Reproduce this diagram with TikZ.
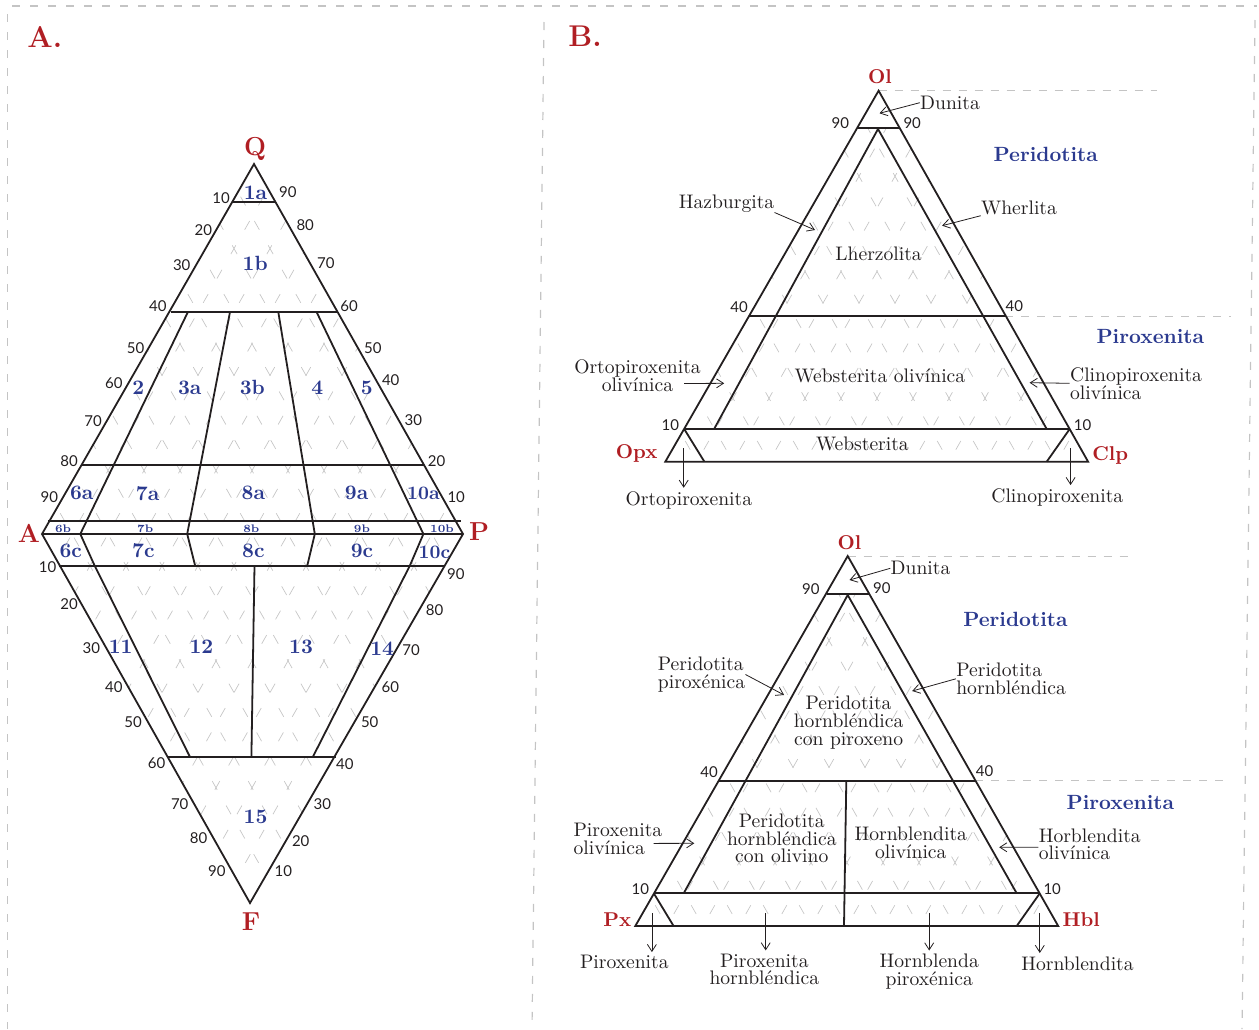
\documentclass[tikz,border=0pt]{standalone}
\usepackage{fontspec}
\newfontfamily\ticksf{Lato}
\usepackage{tikz}
\usetikzlibrary{arrows.meta,calc}

\definecolor{vtxred}{HTML}{B01E23}
\definecolor{fieldblue}{HTML}{2B3A8F}
\definecolor{ink}{HTML}{231F20}
\definecolor{framegray}{HTML}{C4C4C4}
\definecolor{hatchgray}{HTML}{C6C6C6}

\tikzset{
  rim/.style={line width=0.9pt, draw=ink, line join=miter},
  hatchln/.style={draw=hatchgray, line width=0.35pt, dash pattern=on 5pt off 9pt},
  framedash/.style={draw=framegray, line width=0.6pt, dash pattern=on 4pt off 5pt},
  guide/.style={draw=framegray, line width=0.5pt, dash pattern=on 4pt off 4pt},
  panel/.style={text=vtxred, font=\fontsize{15}{15}\selectfont\bfseries, inner sep=0pt},
  vtx/.style={text=vtxred, font=\fontsize{13}{13}\selectfont\bfseries, inner sep=0pt},
  vtxb/.style={text=vtxred, font=\fontsize{10}{10}\selectfont\bfseries, inner sep=0pt},
  fld/.style={text=fieldblue, font=\fontsize{10.3}{10.3}\selectfont\bfseries, inner sep=0pt},
  fldnar/.style={text=fieldblue, font=\fontsize{9.5}{9.5}\selectfont\bfseries, inner sep=0pt},
  fldsm/.style={text=fieldblue, font=\fontsize{5.5}{5.5}\selectfont\bfseries, inner sep=0pt},
  tick/.style={text=ink, font=\ticksf\fontsize{7.5}{7.5}\selectfont, inner sep=0pt},
  clan/.style={text=fieldblue, font=\fontsize{10.3}{10.3}\selectfont\bfseries, inner sep=0pt},
  rock/.style={text=ink, font=\fontsize{9.8}{8.9}\selectfont, inner sep=0pt, align=center},
  lead/.style={-{Straight Barb[length=3.5pt,width=4.5pt]}, line width=0.4pt, draw=ink}
}

\begin{document}
\begin{tikzpicture}[x=0.5pt,y=-0.5pt]
\useasboundingbox (0,0) rectangle (1259,1029);

\draw[framedash] (12,6) -- (1257,6);
\draw[framedash] (7.5,14) -- (7.5,1029);
\draw[framedash] (544,22) -- (532,1029);
\draw[framedash] (1255,20) -- (1242,1029);

\node[panel] (pA) at (44.8,36.7) {A.};
\node[panel] (pB) at (585,36.7) {B.};

\coordinate (Q) at (254,164);
\coordinate (A) at (42,534);
\coordinate (P) at (463,534);
\coordinate (F) at (250,903);

\begin{scope}
\clip (Q) -- (A) -- (F) -- (P) -- cycle;
\foreach \k in {-12,...,12}{
  \draw[hatchln] ({252+\k*36-454},-266) -- ++(908,1600);
  \draw[hatchln] ({252+\k*36+454},-266) -- ++(-908,1600);
}
\end{scope}

\draw[rim] (Q) -- (A) -- (F) -- (P) -- cycle;
\draw[rim] (A) -- (P);
\draw[rim] (232.8,202) -- (274.8,202);
\draw[rim] (170.7,312) -- (336.9,312);
\draw[rim] (81.7,465) -- (423.8,465);
\draw[rim] (48.3,521) -- (460.7,521);
\draw[rim] (58.6,566) -- (444.8,566);
\draw[rim] (166.6,757) -- (335.5,757);
\draw[rim] (187.9,312) -- (80.3,534) -- (94.8,566) -- (190,757);
\draw[rim] (230,312) -- (187.2,534) -- (195.2,566);
\draw[rim] (278.3,312) -- (314.8,534) -- (307.2,566);
\draw[rim] (316.6,312) -- (423.4,534) -- (409.7,566) -- (312.8,757);
\draw[rim] (254.5,566) -- (251.4,757);

\node[vtx] (lQ) at (255.2,149) {Q};
\node[vtx] (lA) at (29,533.3) {A};
\node[vtx] (lP) at (479,532) {P};
\node[vtx] (lF) at (251,922) {F};

\foreach \v/\px/\py in {10/221/198.3, 20/203.4/230, 30/181.7/265, 40/157.9/306, 50/135.5/347.7,
  60/113.8/383.3, 70/93.1/421, 80/69/461, 90/49.3/496.7}
  \node[tick] (qa\v) at (\px,\py) {\v};
\foreach \v/\px/\py in {90/287.9/192, 80/305.2/225, 70/325.9/263, 60/349/306, 50/372.8/348.3,
  40/390.7/380, 30/413.4/420, 20/436.6/461, 10/456.2/496.7}
  \node[tick] (qp\v) at (\px,\py) {\v};
\foreach \v/\px/\py in {10/47.6/566.7, 20/69/604, 30/91.4/648, 40/113.8/686.7, 50/133.1/721.7,
  60/156.6/762.7, 70/179.7/804.3, 80/198.6/838.3, 90/216.9/870.7}
  \node[tick] (af\v) at (\px,\py) {\v};
\foreach \v/\px/\py in {90/455.9/574, 80/434.5/610, 70/411/649.7, 60/390.3/686.7, 50/369.7/721.7,
  40/344.8/763.7, 30/322.4/804, 20/300.7/840.7, 10/283.4/870.7}
  \node[tick] (pf\v) at (\px,\py) {\v};

\foreach \f/\px/\py in {1a/255.5/192.7, 1b/255.2/263.3, 2/138.3/387.7, 3a/189.7/387.7,
  3b/252.4/387.7, 4/317.2/387.7, 5/366.9/387.7, 6a/81.7/493.3, 7a/147.6/493.3,
  8a/253.4/493.3, 9a/356.6/493.3, 6c/70.7/550.7, 7c/143.4/550.7,
  8c/253.4/550.7, 9c/362/550.7, 11/120.7/646.7, 12/201.4/646.7,
  13/301/646.7, 14/382.1/648.7, 15/255.5/817.3}
  \node[fld] (f\f) at (\px,\py) {\f};
\foreach \f/\px/\py in {10a/423.4/493.3, 10c/434.5/552.7}
  \node[fldnar] (f\f) at (\px,\py) {\f};
\foreach \f/\px/\py in {6b/63.1/528.7, 7b/145.2/528.7, 8b/251.4/528.7, 9b/362/528.7, 10b/442/528.7}
  \node[fldsm] (f\f) at (\px,\py) {\f};

\coordinate (Ol1) at (878.6,90.7);
\coordinate (Opx) at (665.3,461.7);
\coordinate (Clp) at (1088.1,461.7);

\begin{scope}
\clip (857.8,128.3) -- (Opx) -- (Clp) -- (899.3,128.3) -- cycle;
\foreach \k in {-12,...,12}{
  \draw[hatchln] ({877+\k*36-454},-338.3) -- ++(908,1600);
  \draw[hatchln] ({877+\k*36+454},-338.3) -- ++(-908,1600);
}
\end{scope}

\draw[guide] (Ol1) -- (1157.2,90.7);
\draw[guide] (1005.2,316) -- (1231,316);

\draw[rim] (Ol1) -- (Opx) -- (Clp) -- cycle;
\draw[rim] (857.8,128.3) -- (899.3,128.3);
\draw[rim] (714.1,429) -- (878,129) -- (1046.7,429);
\draw[rim] (748.7,316) -- (1005.2,316);
\draw[rim] (684.2,429) -- (1069.7,429);
\draw[rim] (684.2,429) -- (704.4,461.7);
\draw[rim] (1069.7,429) -- (1046.7,461.7);

\node[vtxb] (lOl1) at (880,76.7) {Ol};
\node[vtxb] (lOpx) at (636.7,453.3) {Opx};
\node[vtxb] (lClp) at (1110.2,455) {Clp};
\node[clan] (per1) at (1045.8,154.3) {Peridotita};
\node[clan] (pir1) at (1150.3,336.7) {Piroxenita};

\node[tick] (t1a) at (840.3,123.3) {90};
\node[tick] (t1b) at (912.2,123.3) {90};
\node[tick] (t1c) at (739,306.7) {40};
\node[tick] (t1d) at (1014.4,306) {40};
\node[tick] (t1e) at (670.4,425) {10};
\node[tick] (t1f) at (1082.6,425) {10};

\node[rock] (dun1) at (950,102.7) {Dunita};
\coordinate (dun1t) at (879.5,113.3);
\draw[lead] (dun1.west) -- (dun1t);
\node[rock] (hazb) at (726.5,203.3) {Hazburgita};
\coordinate (hazbt) at (815,230);
\draw[lead] (hazb.south east) -- (hazbt);
\node[rock] (wher) at (1019,208.3) {Wherlita};
\coordinate (whert) at (942.1,225.7);
\draw[lead] (wher.south west) -- (whert);
\node[rock] (lherz) at (878.6,254) {Lherzolita};
\node[rock] (ortol) at (637.5,375.5) {Ortopiroxenita\\olivínica};
\coordinate (ortolt) at (724.2,383.3);
\draw[lead] ([xshift=-8.5pt,yshift=-4pt]ortol.east) -- (ortolt);
\node[rock] (webol) at (879.9,376) {Websterita olivínica};
\node[rock, align=left, anchor=west] (clinol) at (1069.7,383.3) {Clinopiroxenita\\olivínica};
\coordinate (clinolt) at (1029.6,382.7);
\draw[lead] (clinol.west) -- (clinolt);
\node[rock] (webs) at (862.4,444.3) {Websterita};
\node[rock] (ortop) at (688.8,500) {Ortopiroxenita};
\coordinate (opxr) at (683.7,448.3);
\draw[lead, shorten >=1.5pt] (opxr) -- (opxr |- ortop.north);
\node[rock] (clinop) at (1057.3,497.3) {Clinopiroxenita};
\coordinate (clpr) at (1070.6,448.3);
\draw[lead, shorten >=1.5pt] (clpr) -- (clpr |- clinop.north);

\coordinate (Ol2) at (847.7,556);
\coordinate (Px) at (635.3,926);
\coordinate (Hbl) at (1058.2,926);

\begin{scope}
\clip (826.5,594) -- (Px) -- (Hbl) -- (868.9,594) -- cycle;
\foreach \k in {-12,...,12}{
  \draw[hatchln] ({847+\k*36-454},126) -- ++(908,1600);
  \draw[hatchln] ({847+\k*36+454},126) -- ++(-908,1600);
}
\end{scope}

\draw[guide] (Ol2) -- (1129.6,556);
\draw[guide] (975.3,780.7) -- (1230.9,780.7);

\draw[rim] (Ol2) -- (Px) -- (Hbl) -- cycle;
\draw[rim] (826.5,594) -- (868.9,594);
\draw[rim] (683.7,893.3) -- (847.7,595) -- (1016.7,893.3);
\draw[rim] (718.7,780.7) -- (975.3,780.7);
\draw[rim] (846.3,780.7) -- (844,926);
\draw[rim] (653.8,893.3) -- (1039.8,893.3);
\draw[rim] (653.8,893.3) -- (673.6,926);
\draw[rim] (1039.8,893.3) -- (1016.7,926);

\node[vtxb] (lOl2) at (849.5,542.7) {Ol};
\node[vtxb] (lPx) at (617.4,919.3) {Px};
\node[vtxb] (lHbl) at (1081.2,920) {Hbl};
\node[clan] (per2) at (1015.4,619.3) {Peridotita};
\node[clan] (pir2) at (1120.4,802.7) {Piroxenita};

\node[tick] (t2a) at (810.8,589.3) {90};
\node[tick] (t2b) at (881.8,588.3) {90};
\node[tick] (t2c) at (709,771.7) {40};
\node[tick] (t2d) at (984.5,770.7) {40};
\node[tick] (t2e) at (640.4,889.3) {10};
\node[tick] (t2f) at (1052.2,889.3) {10};

\node[rock] (dun2) at (920.5,568.3) {Dunita};
\coordinate (dun2t) at (849.5,580);
\draw[lead] (dun2.west) -- (dun2t);
\node[rock, align=left, anchor=west] (perpx) at (657.5,674.5) {Peridotita\\piroxénica};
\coordinate (perpxt) at (784.1,695);
\draw[lead] (perpx.east) -- (perpxt);
\node[rock, align=left, anchor=west] (perhb) at (955.9,678.8) {Peridotita\\hornbléndica};
\coordinate (perhbt) at (912.2,691);
\draw[lead] (perhb.west) -- (perhbt);
\node[rock] (phcp) at (848.6,722.3) {Peridotita\\hornbléndica\\con piroxeno};
\node[rock, align=left, anchor=west] (pirol) at (573.2,839) {Piroxenita\\olivínica};
\coordinate (pirolt) at (694.3,843.3);
\draw[lead] ([xshift=-4.5pt,yshift=-2.2pt]pirol.east) -- (pirolt);
\node[rock] (phco) at (781.8,838.3) {Peridotita\\hornbléndica\\con olivino};
\node[rock] (hbol) at (910.8,842.5) {Hornblendita\\olivínica};
\node[rock, align=left, anchor=west] (horol) at (1038.4,844.2) {Horblendita\\olivínica};
\coordinate (horolt) at (999.2,847.3);
\draw[lead] ([yshift=-1.5pt]horol.west) -- (horolt);

\node[rock] (pirox) at (624.3,962.3) {Piroxenita};
\coordinate (pxr) at (651.9,913.3);
\draw[lead, shorten >=1.5pt] (pxr) -- (pxr |- pirox.north);
\node[rock] (pxhb) at (764.3,969.5) {Piroxenita\\hornbléndica};
\coordinate (pxhbr) at (765.7,913.3);
\draw[lead, shorten >=1.5pt] (pxhbr) -- (pxhbr |- pxhb.north);
\node[rock] (hbpx) at (929.2,971.5) {Hornblenda\\piroxénica};
\coordinate (hbpxr) at (929.2,913.3);
\draw[lead, shorten >=1.5pt] (hbpxr) -- (hbpxr |- hbpx.north);
\node[rock] (hbldt) at (1077.5,963.3) {Hornblendita};
\coordinate (hblr) at (1039.8,913.3);
\draw[lead, shorten >=1.5pt] (hblr) -- (hblr |- hbldt.north);

\end{tikzpicture}
\end{document}
